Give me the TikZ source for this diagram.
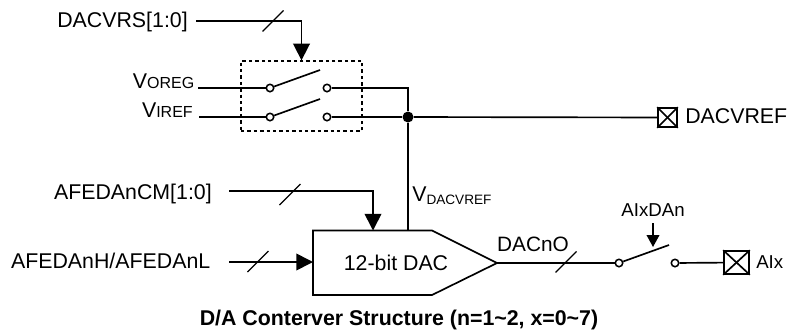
\documentclass[tikz,border=0pt]{standalone}
\usepackage{fontspec}
\setmainfont{Liberation Sans}
\usetikzlibrary{arrows.meta,positioning}
\tikzset{
every picture/.style={line cap=butt,line join=miter},
wire/.style={draw=black, line width=1.25pt},
wire arrow/.style={wire, -{Triangle[length=12.5pt,width=12.5pt]}},
small arrow/.style={wire, -{Triangle[length=9pt,width=9.5pt]}},
bus slash/.style={draw=black, line width=1pt},
sig label/.style={inner sep=0pt, anchor=base east, font=\fontsize{16}{18}\selectfont},
tag label/.style={inner sep=0pt, anchor=base, font=\fontsize{14}{16}\selectfont},
terminal/.style={circle, draw=black, fill=white, line width=1.15pt, minimum size=5.6pt, inner sep=0pt},
junction/.style={circle, fill=black, minimum size=8.25pt, inner sep=0pt},
pad box/.style={draw=black, fill=white, line width=1.25pt, inner sep=0pt},
switch group/.style={draw=black, line width=1pt, dash pattern=on 2.6pt off 2.2pt, inner sep=0pt}
}
\begin{document}
\begin{tikzpicture}[x=0.75pt,y=-0.75pt]
\useasboundingbox (0,0) rectangle (787,333);
% switch pair
\node[switch group,minimum width=90.75pt,minimum height=52.5pt] (swbox) at (301.5,96) {};
\node[terminal] (oreg a) at (270,88) {};
\node[terminal] (oreg b) at (327,88) {};
\node[terminal] (iref a) at (270,117) {};
\node[terminal] (iref b) at (327,117) {};
\coordinate (oreg tip) at (320,70);
\coordinate (iref tip) at (320,99);
\node[junction] (jct) at (408,117) {};
\node[pad box,minimum size=14.25pt] (vrefpad) at (667.5,117.5) {};
% labels on the left
\node[sig label] (vrs) at (188,27.5) {DACVRS[1:0]};
\node[sig label] (voreg) at (194.5,88) {V{\fontsize{12}{14}\selectfont OREG}};
\node[sig label] (viref) at (193,117) {V{\fontsize{12}{14}\selectfont IREF}};
\node[sig label] (cm) at (212,199.5) {AFEDAnCM[1:0]};
\node[sig label] (hl) at (210.5,268) {AFEDAnH/AFEDAnL};
\coordinate (vrs in) at (196,21);
\coordinate (voreg in) at (198,88);
\coordinate (viref in) at (199,117);
\coordinate (cm in) at (229,191);
\coordinate (hl in) at (229,262);
% converter
\coordinate (dac nw) at (313,230.5);
\coordinate (dac ne) at (432,230.5);
\coordinate (dac tip) at (497,263);
\coordinate (dac se) at (432,295);
\coordinate (dac sw) at (313,295);
\coordinate (dac top) at (373,230.5);
\draw[wire] (dac nw) -- (dac ne) -- (dac tip) -- (dac se) -- (dac sw) -- cycle;
\node[inner sep=0pt,anchor=base,font=\fontsize{16}{18}\selectfont] (dac) at (396,270) {12-bit DAC};
% output switch
\node[terminal] (out a) at (619,263) {};
\node[terminal] (out b) at (675,263) {};
\coordinate (out tip) at (669,245);
\node[pad box,minimum width=18.75pt,minimum height=17.25pt] (aipad) at (736.5,262.5) {};
\foreach \padname in {vrefpad,aipad}{
  \draw[wire] (\padname.north west) -- (\padname.south east);
  \draw[wire] (\padname.south west) -- (\padname.north east);
}
\node[tag label] (aisw) at (653,216.5) {AIxDAn};
\coordinate (aisw tip) at (653,247);
\coordinate (aisw top) at (653,223);
\node[inner sep=0pt,anchor=base west,font=\fontsize{16}{18}\selectfont] (vref) at (685,123.5) {DACVREF};
\node[tag label,anchor=base west] (ai) at (756,268) {AIx};
\node[inner sep=0pt,anchor=base,font=\fontsize{15.6}{18}\selectfont] (dacout) at (533,251) {DACnO};
\node[inner sep=0pt,anchor=base west,font=\fontsize{16}{18}\selectfont] (vdac) at (412,201) {V{\fontsize{10.2}{12}\selectfont\raisebox{-2.5pt}{DACVREF}}};
\node[inner sep=0pt,anchor=base,font=\bfseries\fontsize{16}{18}\selectfont] (title) at (399,325) {D/A Conterver Structure (n=1\textasciitilde2, x=0\textasciitilde7)};
% connections
\draw[wire arrow] (vrs in) -| (swbox.north);
\draw[wire] (voreg in) -- (oreg a);
\draw[wire] (viref in) -- (iref a);
\draw[wire] (oreg a) -- (oreg tip);
\draw[wire] (iref a) -- (iref tip);
\draw[wire] (oreg b) -| (jct);
\draw[wire] (iref b) -- (jct);
\draw[wire] (jct) -- (vrefpad);
\draw[wire] (jct) -- (jct |- dac top);
\draw[wire arrow] (cm in) -| (dac top);
\draw[wire arrow] (hl in) -- (hl in -| dac nw);
\draw[wire] (dac tip) -- (out a);
\draw[wire] (out a) -- (out tip);
\draw[wire] (out b) -- (aipad);
\draw[small arrow] (aisw top) -- (aisw tip);
\foreach \sx/\sy in {273/21,290/194.5,258/261.5,566/262}{
  \draw[bus slash] (\sx,\sy) ++(-10.5,10.5) -- ++(21,-21);
}
\end{tikzpicture}
\end{document}
